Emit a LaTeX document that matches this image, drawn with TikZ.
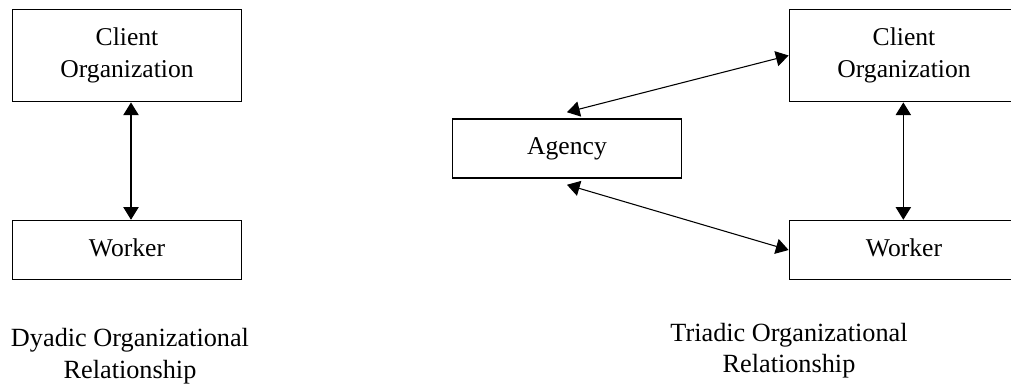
\documentclass[tikz,border=0pt]{standalone}
\usepackage{fontspec}
\setmainfont{Liberation Serif}
\usetikzlibrary{arrows.meta}
\begin{document}
\begin{tikzpicture}[x=0.75pt,y=-0.75pt,
  box/.style={draw, line width=1.1pt, minimum width=172pt, inner sep=0pt,
    align=center, font=\fontsize{19.2}{23.7}\selectfont},
  tallbox/.style={box, minimum height=69.3pt},
  flatbox/.style={box, minimum height=44.3pt, text depth=4.2pt},
  caption/.style={align=center, inner sep=0pt, font=\fontsize{19.7}{23.5}\selectfont},
  link/.style={line width=0.8pt, {Triangle[length=9.5pt,width=11.5pt]}-{Triangle[length=9.5pt,width=11.5pt]}}]
  \useasboundingbox (0,0) rectangle (1011,383);
  \clip (0,0) rectangle (1011,383);

  % dyadic relationship
  \node[tallbox] (lc) at (127,55.5) {Client\\Organization};
  \node[flatbox] (lw) at (127,250) {Worker};
  \draw[link] ([xshift=3pt]lc.south) -- ([xshift=3pt]lw.north);
  \node[caption] (dy) at (130,356.2) {Dyadic Organizational\\Relationship};

  % triadic relationship
  \node[flatbox] (ag) at (567,148.5) {Agency};
  \node[tallbox] (rc) at (904,55.5) {Client\\Organization};
  \node[flatbox] (rw) at (904,250) {Worker};
  \draw[link] ([yshift=4.5pt]ag.north) -- (rc.west);
  \draw[link] ([yshift=-4.5pt]ag.south) -- (rw.west);
  \draw[link] ([xshift=-0.5pt]rc.south) -- ([xshift=-0.5pt]rw.north);
  \node[caption] (tr) at (789,350.9) {Triadic Organizational\\Relationship};
\end{tikzpicture}
\end{document}
